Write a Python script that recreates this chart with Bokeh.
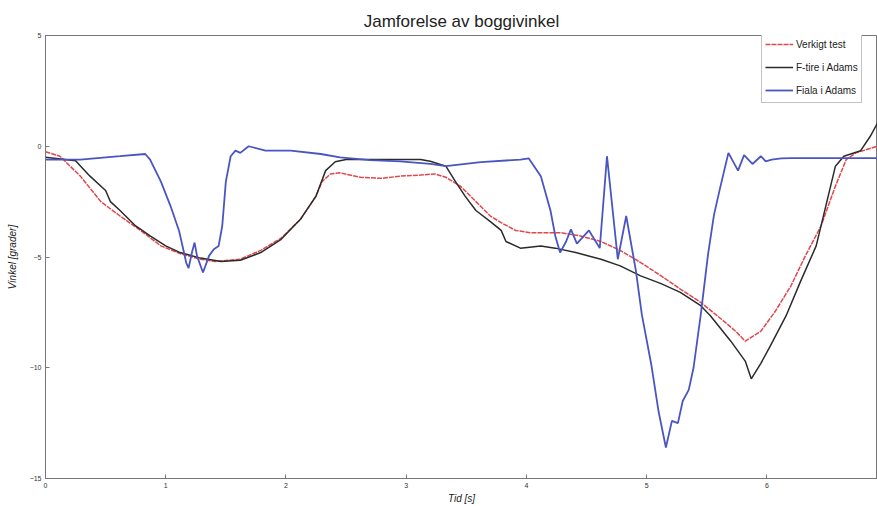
from bokeh.plotting import figure
from bokeh.models import Range1d, Legend, LegendItem, FixedTicker, Title
from bokeh.embed import file_html
from bokeh.resources import INLINE

# ---- data ----
t_red = [0.0, 0.12, 0.29, 0.46, 0.62, 0.79, 0.96, 1.12, 1.29, 1.41, 1.62, 1.79, 1.96, 2.12, 2.25,
         2.30, 2.37, 2.45, 2.62, 2.79, 2.95, 3.12, 3.24, 3.33, 3.45, 3.58, 3.70, 3.79, 3.91, 4.03,
         4.28, 4.45, 4.62, 4.78, 4.95, 5.12, 5.28, 5.45, 5.62, 5.74, 5.82, 5.95, 6.07, 6.20, 6.32,
         6.45, 6.57, 6.66, 6.74, 6.92]
v_red = [-0.25, -0.45, -1.35, -2.5, -3.15, -3.8, -4.5, -4.85, -5.1, -5.2, -5.1, -4.7, -4.15, -3.3, -2.25,
         -1.6, -1.25, -1.2, -1.4, -1.45, -1.35, -1.3, -1.25, -1.4, -1.8, -2.5, -3.15, -3.45, -3.8, -3.9,
         -3.9, -4.05, -4.3, -4.7, -5.25, -5.85, -6.45, -7.05, -7.8, -8.35, -8.8, -8.35, -7.45, -6.3, -4.95,
         -3.6, -1.8, -0.6, -0.3, 0.0]

t_blk = [0.0, 0.25, 0.37, 0.50, 0.54, 0.62, 0.75, 0.87, 1.0, 1.12, 1.29, 1.46, 1.62, 1.79, 1.96,
         2.12, 2.25, 2.33, 2.41, 2.50, 2.70, 2.95, 3.12, 3.20, 3.33, 3.41, 3.49, 3.58, 3.70, 3.79,
         3.83, 3.95, 4.12, 4.24, 4.41, 4.62, 4.78, 4.95, 5.12, 5.28, 5.45, 5.53, 5.70, 5.82, 5.87,
         5.95, 6.03, 6.16, 6.28, 6.41, 6.49, 6.57, 6.64, 6.78, 6.86, 6.92]
v_blk = [-0.5, -0.65, -1.35, -2.0, -2.5, -2.9, -3.6, -4.05, -4.5, -4.8, -5.05, -5.2, -5.15, -4.8, -4.2,
         -3.3, -2.25, -1.1, -0.7, -0.6, -0.6, -0.6, -0.6, -0.68, -0.9, -1.6, -2.25, -2.9, -3.4, -3.8,
         -4.3, -4.6, -4.5, -4.6, -4.8, -5.1, -5.4, -5.85, -6.2, -6.6, -7.2, -7.65, -8.8, -9.7, -10.5,
         -9.8, -9.0, -7.65, -6.1, -4.5, -2.7, -0.9, -0.45, -0.2, 0.45, 1.05]

t_blu = [0.0, 0.29, 0.62, 0.83, 0.87, 0.96, 1.04, 1.11, 1.15, 1.17, 1.19, 1.22, 1.24, 1.26, 1.31,
         1.36, 1.40, 1.44, 1.47, 1.50, 1.54, 1.58, 1.62, 1.69, 1.83, 2.04, 2.29, 2.45, 2.70, 2.95,
         3.20, 3.33, 3.62, 3.95, 4.02, 4.12, 4.20, 4.24, 4.28, 4.33, 4.37, 4.42, 4.52, 4.61, 4.67,
         4.76, 4.83, 4.91, 4.96, 5.04, 5.10, 5.16, 5.21, 5.26, 5.30, 5.35, 5.39, 5.45, 5.51, 5.56,
         5.61, 5.68, 5.76, 5.81, 5.88, 5.95, 5.99, 6.04, 6.12, 6.20, 6.92]
v_blu = [-0.6, -0.6, -0.45, -0.35, -0.6, -1.6, -2.7, -3.8, -4.75, -5.25, -5.5, -4.75, -4.35, -4.95, -5.7,
         -4.95, -4.65, -4.5, -3.6, -1.6, -0.45, -0.2, -0.3, 0.0, -0.2, -0.2, -0.35, -0.5, -0.63, -0.68,
         -0.8, -0.9, -0.72, -0.6, -0.55, -1.35, -2.9, -4.05, -4.8, -4.3, -3.75, -4.4, -3.8, -4.6, -0.45,
         -5.1, -3.15, -5.6, -7.6, -9.9, -12.0, -13.6, -12.4, -12.5, -11.5, -11.0, -10.0, -7.6, -4.9, -3.1,
         -1.9, -0.3, -1.1, -0.4, -0.8, -0.45, -0.68, -0.6, -0.55, -0.54, -0.54]

x_ticks = [0, 1, 2, 3, 4, 5, 6, 7]
y_ticks = [5, 0, -5, -10, -15]
title_text = "Jamforelse av boggivinkel"
names = ["Verkigt test", "F-tire i Adams", "Fiala i Adams"]

FONT = "Liberation Sans, Arial, sans-serif"

p = figure(width=877, height=506, output_backend="svg", toolbar_location=None,
           x_range=Range1d(0, 6.92), y_range=Range1d(-15, 5),
           min_border_left=45, min_border_right=0, min_border_top=35, min_border_bottom=28,
           background_fill_color="white", border_fill_color="white")

p.title = Title(text=title_text, align="center", text_font=FONT, text_font_size="17px",
                text_font_style="normal", text_color="#222222", standoff=10)
p.xgrid.visible = False
p.ygrid.visible = False
p.outline_line_color = "#777777"
p.outline_line_width = 1

for ax in (p.xaxis[0], p.yaxis[0]):
    ax.major_tick_in = 4
    ax.major_tick_out = 0
    ax.minor_tick_line_color = None
    ax.axis_line_color = "#777777"
    ax.major_tick_line_color = "#777777"
    ax.major_label_text_font = FONT
    ax.major_label_text_font_size = "7px"
    ax.major_label_text_color = "#333333"
    ax.axis_label_text_font = FONT
    ax.axis_label_text_font_size = "10px"
    ax.axis_label_text_font_style = "italic"
    ax.axis_label_text_color = "#222222"

p.xaxis[0].ticker = FixedTicker(ticks=x_ticks)
p.yaxis[0].ticker = FixedTicker(ticks=y_ticks)
p.xaxis[0].axis_label = "Tid [s]"
p.yaxis[0].axis_label = "Vinkel [grader]"
p.xaxis[0].major_label_standoff = 4
p.xaxis[0].axis_label_standoff = 2
p.yaxis[0].major_label_standoff = 4
p.yaxis[0].axis_label_standoff = 9

r_red = p.line(t_red, v_red, line_color="#e0474c", line_width=1.5, line_dash="5 1")
r_blk = p.line(t_blk, v_blk, line_color="#2b2b2b", line_width=1.5)
r_blu = p.line(t_blu, v_blu, line_color="#4a55c2", line_width=1.8)

legend = Legend(items=[LegendItem(label=names[0], renderers=[r_red]),
                       LegendItem(label=names[1], renderers=[r_blk]),
                       LegendItem(label=names[2], renderers=[r_blu])],
                location=(716, 375), orientation="vertical",
                label_text_font=FONT, label_text_font_size="10px", label_text_color="#222222",
                glyph_width=28, glyph_height=18, label_height=18, label_standoff=3,
                spacing=5, padding=3, margin=0,
                border_line_color="#888888", border_line_width=1,
                background_fill_color="white", background_fill_alpha=1.0)
p.add_layout(legend, "center")

open("out.html", "w").write(file_html(p, INLINE))
